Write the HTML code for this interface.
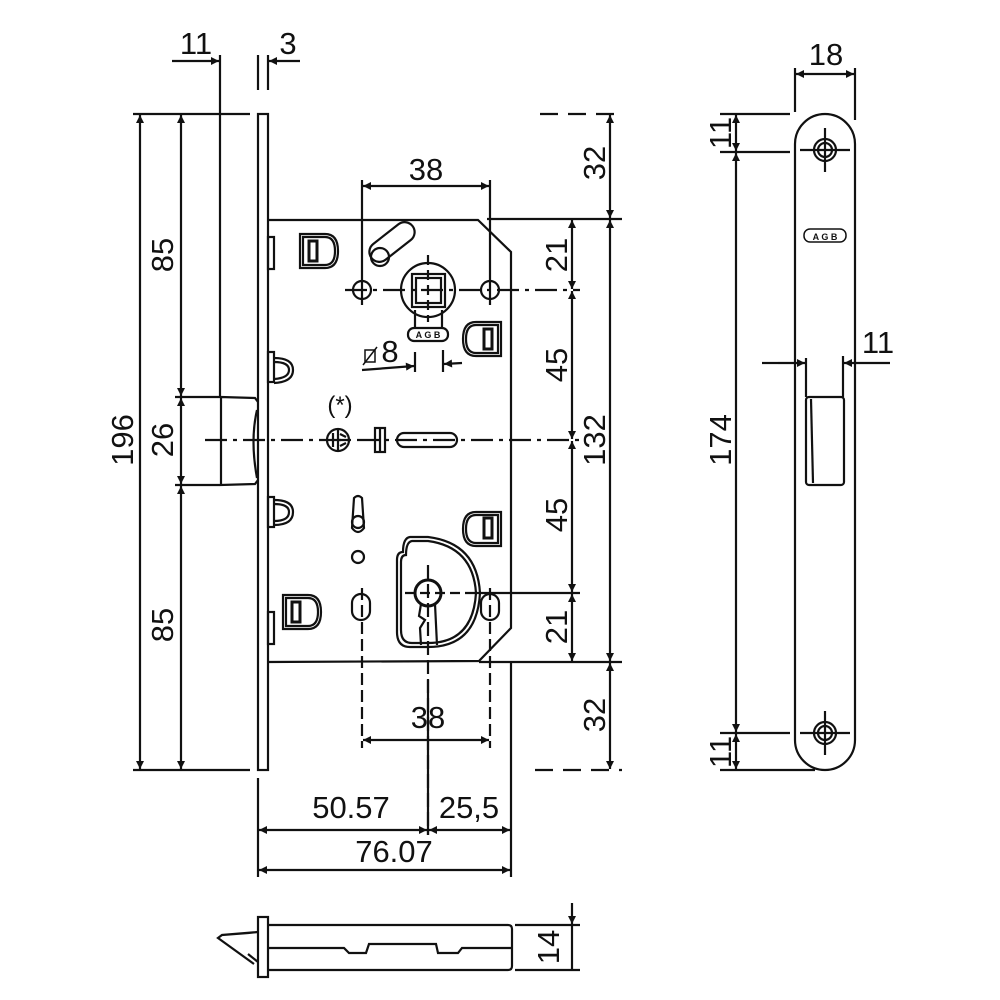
<!DOCTYPE html>
<html><head><meta charset="utf-8"><style>
html,body{margin:0;padding:0;background:#fff}
svg{display:block}
text{font-family:"Liberation Sans Narrow","Liberation Sans",sans-serif;font-size:31px;fill:#111}
</style></head><body>
<svg width="1000" height="1000" viewBox="0 0 1000 1000" xmlns="http://www.w3.org/2000/svg">
<defs>
<marker id="a" viewBox="0 0 10 10" refX="10" refY="5" markerWidth="10" markerHeight="8" orient="auto-start-reverse" markerUnits="userSpaceOnUse"><path d="M0,0 L10,5 L0,10 z" fill="#111"/></marker>
</defs>
<g stroke="#111" stroke-width="2.2" fill="none">
<rect x="258" y="114" width="10" height="656"/>
<line x1="220" y1="55" x2="220" y2="397"/>
<line x1="258" y1="55" x2="258" y2="90"/>
<line x1="268" y1="55" x2="268" y2="90"/>
<line x1="258" y1="778" x2="258" y2="877"/>
<path d="M221,397 L255,398 L258,402 M221,397 L221,485 L255,484 L258,480"/>
<path d="M257,410 Q250,440 257,478"/>
<line x1="172" y1="61" x2="219" y2="61" marker-end="url(#a)"/>
<line x1="300" y1="61" x2="269" y2="61" marker-end="url(#a)"/>
<line x1="133" y1="114" x2="250" y2="114"/>
<line x1="133" y1="770" x2="250" y2="770"/>
<line x1="175" y1="397" x2="220" y2="397"/>
<line x1="175" y1="485" x2="220" y2="485"/>
<line x1="140" y1="115" x2="140" y2="769" marker-start="url(#a)" marker-end="url(#a)"/>
<line x1="181" y1="115" x2="181" y2="396" marker-start="url(#a)" marker-end="url(#a)"/>
<line x1="181" y1="398" x2="181" y2="484" marker-start="url(#a)" marker-end="url(#a)"/>
<line x1="181" y1="486" x2="181" y2="769" marker-start="url(#a)" marker-end="url(#a)"/>
<path d="M268,220 L478,220 L511,252 L511,628 L479,661 L268,662"/>
<line x1="511" y1="662" x2="511" y2="877"/>
<line x1="487" y1="219" x2="622" y2="219"/>
<line x1="479" y1="662" x2="622" y2="662"/>
<rect x="268" y="237" width="6" height="32"/>
<rect x="268" y="352" width="6" height="30"/>
<rect x="268" y="497" width="6" height="30"/>
<rect x="268" y="612" width="6" height="32"/>
<path d="M274,358 Q293,358 293,370 Q293,382 274,383"/><path d="M274,362 Q289,362 289,370 Q289,378 274,379"/>
<path d="M274,500 Q293,500 293,512 Q293,525 274,525"/><path d="M274,504 Q289,504 289,512 Q289,521 274,521"/>
<path d="M300,234 L325,234 Q338,234 338,251 Q338,268 325,268 L300,268 Z"/>
<path d="M303,237 L325,237 Q335,237 335,251 Q335,265 325,265 L303,265 Z"/>
<rect x="309" y="241" width="8" height="20" stroke-width="3"/>
<path d="M501,322 L476,322 Q463,322 463,339 Q463,356 476,356 L501,356 Z"/>
<path d="M498,325 L476,325 Q466,325 466,339 Q466,353 476,353 L498,353 Z"/>
<rect x="484" y="329" width="8" height="20" stroke-width="3"/>
<path d="M501,512 L476,512 Q463,512 463,529 Q463,546 476,546 L501,546 Z"/>
<path d="M498,515 L476,515 Q466,515 466,529 Q466,543 476,543 L498,543 Z"/>
<rect x="484" y="518" width="8" height="20" stroke-width="3"/>
<path d="M283,595 L308,595 Q321,595 321,612 Q321,629 308,629 L283,629 Z"/>
<path d="M286,598 L308,598 Q318,598 318,612 Q318,626 308,626 L286,626 Z"/>
<rect x="292" y="602" width="8" height="20" stroke-width="3"/>
<rect x="-26" y="-10" width="52" height="20" rx="10" transform="translate(392,242) rotate(-38)"/>
<circle cx="380" cy="257" r="9"/>
<circle cx="428" cy="290" r="27"/>
<rect x="412" y="274" width="33" height="33"/>
<rect x="416" y="278" width="25" height="25"/>
<circle cx="362" cy="290" r="9"/>
<circle cx="490" cy="290" r="9"/>
<line x1="415" y1="310" x2="415" y2="328"/><line x1="442" y1="310" x2="442" y2="328"/>
<rect x="408" y="328" width="40" height="13" rx="6"/>
<line x1="345" y1="290" x2="580" y2="290" stroke-dasharray="22,6,4,6"/>
<line x1="428" y1="255" x2="428" y2="322" stroke-dasharray="10,5"/>
<line x1="362" y1="180" x2="362" y2="305"/>
<line x1="490" y1="180" x2="490" y2="305"/>
<line x1="363" y1="186" x2="489" y2="186" marker-start="url(#a)" marker-end="url(#a)"/>
<line x1="415" y1="352" x2="415" y2="372"/><line x1="443" y1="350" x2="443" y2="372"/>
<line x1="362" y1="370" x2="414" y2="366" marker-end="url(#a)"/>
<line x1="462" y1="363" x2="444" y2="364" marker-end="url(#a)"/>
<rect x="365" y="350" width="10" height="12" stroke-width="1.5"/><line x1="363" y1="365" x2="377" y2="347" stroke-width="1.5"/>
<line x1="205" y1="440" x2="580" y2="440" stroke-dasharray="22,6,4,6"/>
<circle cx="338" cy="440" r="11"/>
<path d="M338,429 L338,451 M333,433 L333,447 M338,440 L348,440 M340,434 L346,437 M340,446 L346,443"/>
<rect x="375" y="428" width="10" height="24"/>
<line x1="380" y1="428" x2="380" y2="452"/>
<rect x="397" y="433" width="60" height="14" rx="7"/>
<path d="M354,498 Q358,494 362,498 L364,528 Q358,536 352,528 Z"/>
<circle cx="358" cy="522" r="6"/>
<circle cx="358" cy="557" r="6"/>
<rect x="352" y="594" width="18" height="26" rx="9"/>
<rect x="481" y="594" width="18" height="26" rx="9"/>
<line x1="362" y1="588" x2="362" y2="748" stroke-dasharray="12,5"/>
<line x1="490" y1="588" x2="490" y2="748" stroke-dasharray="12,5"/>
<path d="M403,552 Q397,552 397,560 L397,632 Q397,647 410,647 L428,647 Q477,647 480,593 Q477,543 428,537 L410,537 Q403,538 403,552 Z"/>
<path d="M406,555 Q401,555 401,562 L401,630 Q401,643 412,643 L428,643 Q473,643 476,593 Q473,547 428,541 L412,541 Q406,542 406,555 Z"/>
<circle cx="428" cy="593" r="13" stroke-width="3"/>
<path d="M421,604 L419,616 L425,620 L420,628 L421,645 M435,604 L437,645"/>
<line x1="405" y1="593" x2="470" y2="593" stroke-dasharray="10,5"/>
<line x1="470" y1="593" x2="580" y2="593"/>
<line x1="428" y1="565" x2="428" y2="835" stroke-dasharray="14,5"/>
<line x1="428" y1="680" x2="428" y2="835"/>
<line x1="363" y1="740" x2="489" y2="740" marker-start="url(#a)" marker-end="url(#a)"/>
<line x1="540" y1="114" x2="622" y2="114" stroke-dasharray="18,10"/>
<line x1="535" y1="770" x2="622" y2="770" stroke-dasharray="18,10"/>
<line x1="610" y1="115" x2="610" y2="218" marker-start="url(#a)" marker-end="url(#a)"/>
<line x1="610" y1="220" x2="610" y2="661" marker-start="url(#a)" marker-end="url(#a)"/>
<line x1="610" y1="663" x2="610" y2="769" marker-start="url(#a)" marker-end="url(#a)"/>
<line x1="572" y1="220" x2="572" y2="289" marker-start="url(#a)" marker-end="url(#a)"/>
<line x1="572" y1="291" x2="572" y2="439" marker-start="url(#a)" marker-end="url(#a)"/>
<line x1="572" y1="441" x2="572" y2="592" marker-start="url(#a)" marker-end="url(#a)"/>
<line x1="572" y1="594" x2="572" y2="661" marker-start="url(#a)" marker-end="url(#a)"/>
<line x1="259" y1="830" x2="427" y2="830" marker-start="url(#a)" marker-end="url(#a)"/>
<line x1="429" y1="830" x2="510" y2="830" marker-start="url(#a)" marker-end="url(#a)"/>
<line x1="259" y1="870" x2="510" y2="870" marker-start="url(#a)" marker-end="url(#a)"/>
<path d="M795,144 A30,30 0 0 1 855,144 L855,740 A30,30 0 0 1 795,740 Z"/>
<circle cx="825" cy="150" r="11"/><circle cx="825" cy="150" r="7"/>
<line x1="800" y1="150" x2="850" y2="150"/><line x1="825" y1="128" x2="825" y2="172"/>
<circle cx="825" cy="733" r="11"/><circle cx="825" cy="733" r="7"/>
<line x1="800" y1="733" x2="850" y2="733"/><line x1="825" y1="711" x2="825" y2="755"/>
<rect x="806" y="397" width="38" height="88" rx="3"/>
<line x1="811" y1="399" x2="813" y2="483"/>
<rect x="804" y="229" width="42" height="13" rx="6" stroke-width="1.5"/>
<line x1="795" y1="68" x2="795" y2="112"/><line x1="855" y1="68" x2="855" y2="120"/>
<line x1="796" y1="74" x2="854" y2="74" marker-start="url(#a)" marker-end="url(#a)"/>
<line x1="720" y1="114" x2="790" y2="114"/><line x1="720" y1="152" x2="790" y2="152"/>
<line x1="720" y1="733" x2="790" y2="733"/><line x1="720" y1="770" x2="815" y2="770"/>
<line x1="736" y1="115" x2="736" y2="151" marker-start="url(#a)" marker-end="url(#a)"/>
<line x1="736" y1="153" x2="736" y2="732" marker-start="url(#a)" marker-end="url(#a)"/>
<line x1="736" y1="734" x2="736" y2="769" marker-start="url(#a)" marker-end="url(#a)"/>
<line x1="806" y1="358" x2="806" y2="397"/><line x1="843" y1="356" x2="843" y2="397"/>
<line x1="778" y1="363" x2="805" y2="363" marker-end="url(#a)"/>
<line x1="890" y1="363" x2="844" y2="363" marker-end="url(#a)"/>
<line x1="762" y1="363" x2="778" y2="363"/>
<rect x="258" y="917" width="10" height="60"/>
<path d="M268,925 L508,925 Q512,925 512,929 L512,966 Q512,970 508,970 L268,970"/>
<path d="M268,948 L344,948 L349,953 L366,953 L369,944 L436,944 L438,953 L458,953 L462,948 L512,948"/>
<path d="M258,932 L222,935 L218,938 L254,964 M222,935 L248,933 L258,932"/>
<line x1="248" y1="954" x2="258" y2="962"/>
<line x1="515" y1="925" x2="580" y2="925"/><line x1="515" y1="970" x2="580" y2="970"/>
<line x1="572" y1="903" x2="572" y2="924" marker-end="url(#a)"/>
<line x1="572" y1="926" x2="572" y2="970"/>
</g>
<g>
<text x="196" y="54" text-anchor="middle">11</text>
<text x="288" y="54" text-anchor="middle">3</text>
<text transform="translate(133,440) rotate(-90)" text-anchor="middle">196</text>
<text transform="translate(173,255) rotate(-90)" text-anchor="middle">85</text>
<text transform="translate(173,440) rotate(-90)" text-anchor="middle">26</text>
<text transform="translate(173,625) rotate(-90)" text-anchor="middle">85</text>
<text x="426" y="180" text-anchor="middle">38</text>
<text x="428" y="728" text-anchor="middle">38</text>
<text transform="translate(605,163) rotate(-90)" text-anchor="middle">32</text>
<text transform="translate(567,255) rotate(-90)" text-anchor="middle">21</text>
<text transform="translate(567,365) rotate(-90)" text-anchor="middle">45</text>
<text transform="translate(605,440) rotate(-90)" text-anchor="middle">132</text>
<text transform="translate(567,515) rotate(-90)" text-anchor="middle">45</text>
<text transform="translate(567,627) rotate(-90)" text-anchor="middle">21</text>
<text transform="translate(605,715) rotate(-90)" text-anchor="middle">32</text>
<text x="351" y="818" text-anchor="middle">50.57</text>
<text x="469" y="818" text-anchor="middle">25,5</text>
<text x="394" y="862" text-anchor="middle">76.07</text>
<text x="390" y="362" text-anchor="middle">8</text>
<text x="340" y="413" text-anchor="middle" style="font-size:24px">(*)</text>
<text x="826" y="65" text-anchor="middle">18</text>
<text x="878" y="353" text-anchor="middle">11</text>
<text transform="translate(731,133) rotate(-90)" text-anchor="middle">11</text>
<text transform="translate(731,440) rotate(-90)" text-anchor="middle">174</text>
<text transform="translate(731,752) rotate(-90)" text-anchor="middle">11</text>
<text transform="translate(559,947) rotate(-90)" text-anchor="middle">14</text>
<text x="428" y="338" text-anchor="middle" style="font-size:9px;font-weight:bold">A G B</text>
<text x="825" y="240" text-anchor="middle" style="font-size:9px;font-weight:bold">A G B</text>
</g>
</svg>
</body></html>
